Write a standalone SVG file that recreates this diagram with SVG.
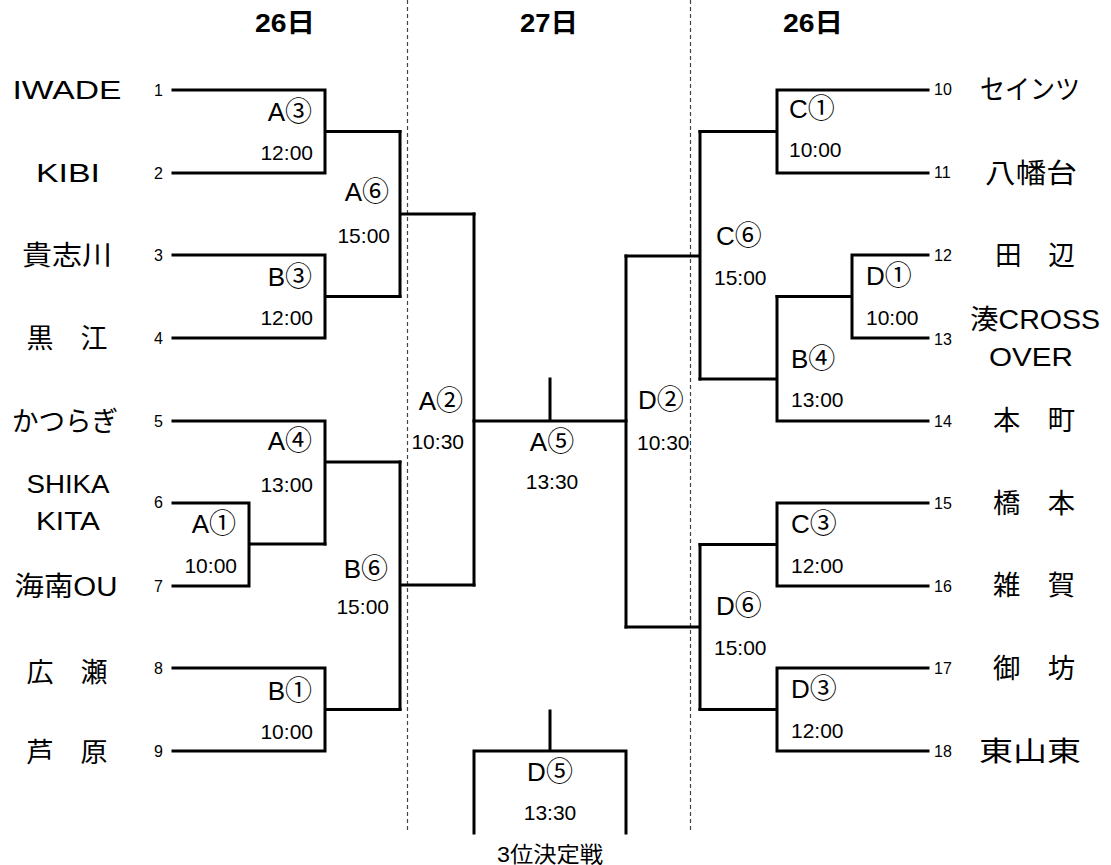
<svg xmlns="http://www.w3.org/2000/svg" width="1111" height="865" viewBox="0 0 1111 865">
<style>
text{font-family:"Liberation Sans","Noto Sans CJK JP",sans-serif;fill:#000}
.hd{font-size:26px;font-weight:bold;text-anchor:middle}
.nm{font-size:25px;text-anchor:middle}
.jp{font-size:27px;text-anchor:middle}
.no{font-size:16px}
.nl{text-anchor:end}
.lb{font-size:26px}
.c{font-size:27px;font-family:"Noto Sans CJK JP",sans-serif}
.tm{font-size:21px}
.e{text-anchor:end}
.m{text-anchor:middle}
.ln{fill:none;stroke:#000;stroke-width:3;stroke-linecap:square}
.dv{stroke:#444;stroke-width:1.2;stroke-dasharray:4 3}
</style>
<rect width="1111" height="865" fill="#fff"/>
<g id="dividers">
<line class="dv" x1="407.5" y1="0" x2="407.5" y2="833"/>
<line class="dv" x1="690.5" y1="0" x2="690.5" y2="830"/>
</g>
<g id="headers">
<text class="hd" x="285" y="32" textLength="60" lengthAdjust="spacingAndGlyphs">26日</text>
<text class="hd" x="549" y="32" textLength="58" lengthAdjust="spacingAndGlyphs">27日</text>
<text class="hd" x="813" y="32" textLength="60" lengthAdjust="spacingAndGlyphs">26日</text>
</g>
<g id="connectors">
<path class="ln" d="M173,90 H325 V173 H173 M325,131.5 H400"/>
<path class="ln" d="M173,255 H325 V338 H173 M325,296.5 H400"/>
<path class="ln" d="M400,131.5 V296.5 M400,214 H474"/>
<path class="ln" d="M173,503 H249 V586 H173 M249,544 H325"/>
<path class="ln" d="M173,421 H325 V544 M325,462 H400"/>
<path class="ln" d="M173,668 H325 V751 H173 M325,709.5 H400"/>
<path class="ln" d="M400,462 V709.5 M400,585 H474"/>
<path class="ln" d="M474,214 V585"/>
<path class="ln" d="M474,421 H626 M550,379 V421"/>
<path class="ln" d="M626,256 V627"/>
<path class="ln" d="M928,90 H777 V173 H928 M777,131.5 H700"/>
<path class="ln" d="M928,255 H852 V338 H928 M852,296.5 H777"/>
<path class="ln" d="M777,296.5 V421 H928 M777,379 H700"/>
<path class="ln" d="M700,131.5 V379 M700,256 H626"/>
<path class="ln" d="M928,503 H777 V586 H928 M777,544.5 H700"/>
<path class="ln" d="M928,668 H777 V751 H928 M777,709.5 H700"/>
<path class="ln" d="M700,544.5 V709.5 M700,627 H626"/>
<path class="ln" d="M474,833 V751 H626 V833 M550,711 V751"/>
</g>
<g id="team-1"><text class="nm" x="67" y="99" textLength="109" lengthAdjust="spacingAndGlyphs">IWADE</text><text class="no nl" x="163" y="96">1</text></g>
<g id="team-2"><text class="nm" x="68" y="182" textLength="64" lengthAdjust="spacingAndGlyphs">KIBI</text><text class="no nl" x="163" y="179">2</text></g>
<g id="team-3"><text class="jp" x="67" y="265" textLength="90" lengthAdjust="spacingAndGlyphs">貴志川</text><text class="no nl" x="163" y="261">3</text></g>
<g id="team-4"><text class="jp" x="67" y="348" textLength="81" lengthAdjust="spacingAndGlyphs">黒　江</text><text class="no nl" x="163" y="344">4</text></g>
<g id="team-5"><text class="jp" x="65" y="431" textLength="106" lengthAdjust="spacingAndGlyphs">かつらぎ</text><text class="no nl" x="163" y="427">5</text></g>
<g id="team-6"><text class="nm" x="68" y="493" textLength="83" lengthAdjust="spacingAndGlyphs">SHIKA</text><text class="nm" x="68" y="530" textLength="64" lengthAdjust="spacingAndGlyphs">KITA</text><text class="no nl" x="163" y="508">6</text></g>
<g id="team-7"><text class="jp" x="66" y="596" textLength="103" lengthAdjust="spacingAndGlyphs">海南OU</text><text class="no nl" x="163" y="592">7</text></g>
<g id="team-8"><text class="jp" x="67" y="682" textLength="81" lengthAdjust="spacingAndGlyphs">広　瀬</text><text class="no nl" x="163" y="674">8</text></g>
<g id="team-9"><text class="jp" x="67" y="762" textLength="81" lengthAdjust="spacingAndGlyphs">芦　原</text><text class="no nl" x="163" y="757">9</text></g>
<g id="team-10"><text class="jp" x="1030" y="99" textLength="100" lengthAdjust="spacingAndGlyphs">セインツ</text><text class="no" x="934" y="95">10</text></g>
<g id="team-11"><text class="jp" x="1031" y="183" textLength="92" lengthAdjust="spacingAndGlyphs">八幡台</text><text class="no" x="934" y="178">11</text></g>
<g id="team-12"><text class="jp" x="1035" y="265" textLength="80" lengthAdjust="spacingAndGlyphs">田　辺</text><text class="no" x="934" y="261">12</text></g>
<g id="team-13"><text class="jp" x="1035" y="329" textLength="130" lengthAdjust="spacingAndGlyphs">湊CROSS</text><text class="nm" x="1031" y="366" textLength="84" lengthAdjust="spacingAndGlyphs">OVER</text><text class="no" x="934" y="345">13</text></g>
<g id="team-14"><text class="jp" x="1034" y="430" textLength="82" lengthAdjust="spacingAndGlyphs">本　町</text><text class="no" x="934" y="427">14</text></g>
<g id="team-15"><text class="jp" x="1034" y="513" textLength="82" lengthAdjust="spacingAndGlyphs">橋　本</text><text class="no" x="934" y="509">15</text></g>
<g id="team-16"><text class="jp" x="1034" y="595" textLength="82" lengthAdjust="spacingAndGlyphs">雑　賀</text><text class="no" x="934" y="592">16</text></g>
<g id="team-17"><text class="jp" x="1034" y="678" textLength="82" lengthAdjust="spacingAndGlyphs">御　坊</text><text class="no" x="934" y="674">17</text></g>
<g id="team-18"><text class="jp" x="1030" y="761" textLength="102" lengthAdjust="spacingAndGlyphs">東山東</text><text class="no" x="934" y="757">18</text></g>
<g id="match-A3"><text class="lb e" x="312" y="121">A<tspan class="c">③</tspan></text><text class="tm e" x="313" y="160">12:00</text></g>
<g id="match-B3"><text class="lb e" x="312" y="286">B<tspan class="c">③</tspan></text><text class="tm e" x="313" y="325">12:00</text></g>
<g id="match-A6"><text class="lb e" x="389" y="201">A<tspan class="c">⑥</tspan></text><text class="tm e" x="390" y="243">15:00</text></g>
<g id="match-A4"><text class="lb e" x="312" y="450">A<tspan class="c">④</tspan></text><text class="tm e" x="313" y="492">13:00</text></g>
<g id="match-A1"><text class="lb e" x="236" y="533">A<tspan class="c">①</tspan></text><text class="tm e" x="237" y="573">10:00</text></g>
<g id="match-B6"><text class="lb e" x="388" y="578">B<tspan class="c">⑥</tspan></text><text class="tm e" x="389" y="614">15:00</text></g>
<g id="match-B1"><text class="lb e" x="312" y="700">B<tspan class="c">①</tspan></text><text class="tm e" x="313" y="739">10:00</text></g>
<g id="match-A2"><text class="lb e" x="463" y="410">A<tspan class="c">②</tspan></text><text class="tm e" x="464" y="449">10:30</text></g>
<g id="match-A5"><text class="lb m" x="552" y="451">A<tspan class="c">⑤</tspan></text><text class="tm m" x="552" y="489">13:30</text></g>
<g id="match-D2"><text class="lb" x="638" y="409">D<tspan class="c">②</tspan></text><text class="tm" x="637" y="450">10:30</text></g>
<g id="match-C1"><text class="lb" x="789" y="118">C<tspan class="c">①</tspan></text><text class="tm" x="789" y="157">10:00</text></g>
<g id="match-C6"><text class="lb" x="716" y="245">C<tspan class="c">⑥</tspan></text><text class="tm" x="714" y="285">15:00</text></g>
<g id="match-D1"><text class="lb" x="866" y="285">D<tspan class="c">①</tspan></text><text class="tm" x="866" y="325">10:00</text></g>
<g id="match-B4"><text class="lb" x="791" y="368">B<tspan class="c">④</tspan></text><text class="tm" x="791" y="407">13:00</text></g>
<g id="match-C3"><text class="lb" x="791" y="533">C<tspan class="c">③</tspan></text><text class="tm" x="791" y="573">12:00</text></g>
<g id="match-D6"><text class="lb" x="716" y="615">D<tspan class="c">⑥</tspan></text><text class="tm" x="714" y="655">15:00</text></g>
<g id="match-D3"><text class="lb" x="791" y="698">D<tspan class="c">③</tspan></text><text class="tm" x="791" y="738">12:00</text></g>
<g id="match-D5"><text class="lb m" x="550" y="781">D<tspan class="c">⑤</tspan></text><text class="tm m" x="550" y="820">13:30</text><text class="tm m" x="550" y="862" style="font-size:22px" textLength="106" lengthAdjust="spacingAndGlyphs">3位決定戦</text></g>
</svg>
